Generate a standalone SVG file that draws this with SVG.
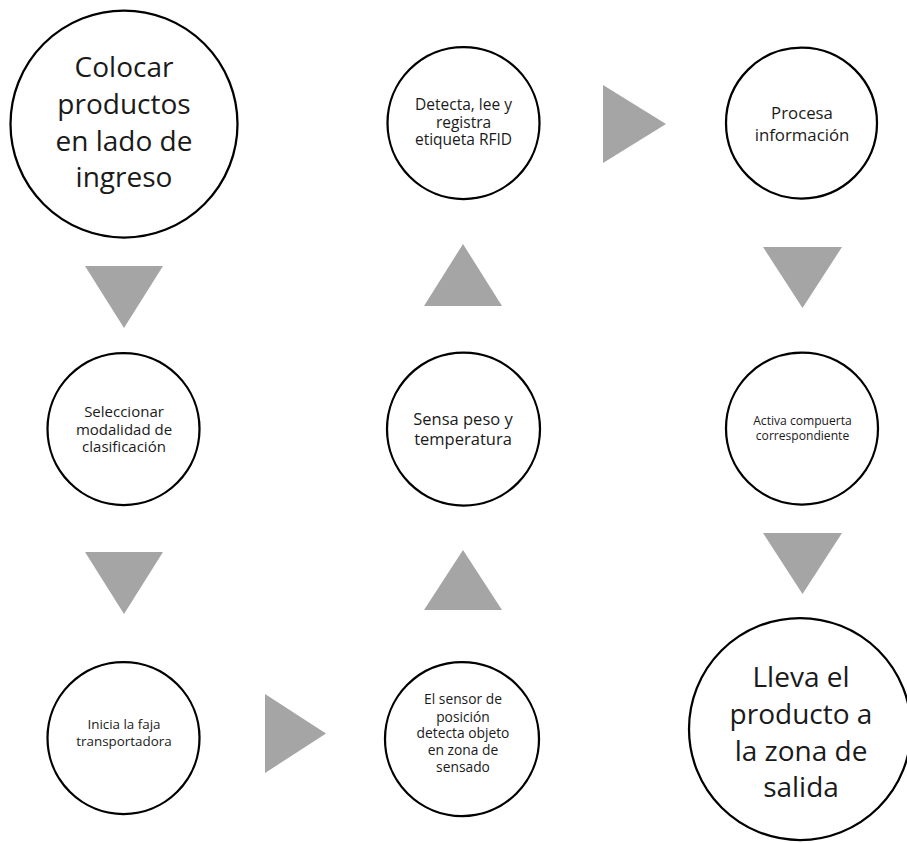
<svg xmlns="http://www.w3.org/2000/svg" width="907" height="843" viewBox="0 0 907 843">
  <style>
    .node circle { fill: #ffffff; stroke: #000000; stroke-width: 2.25; }
    .node text { font-family: "Open Sans", "Liberation Sans", sans-serif; fill: #1a1a1a; text-anchor: middle; }
    .big text { font-size: 28px; }
    .arrow { fill: #a5a5a5; stroke: none; }
  </style>
  <rect x="0" y="0" width="907" height="843" fill="#ffffff"/>

  <g id="connectors">
    <polygon class="arrow" points="85,266 163,266 124,328"/>
    <polygon class="arrow" points="85,552 163,552 124,614"/>
    <polygon class="arrow" points="265,694 265,773 326,733.5"/>
    <polygon class="arrow" points="424,610 502,610 463,550"/>
    <polygon class="arrow" points="424,306 502,306 463,244"/>
    <polygon class="arrow" points="603,85 603,163 666,124"/>
    <polygon class="arrow" points="763,247 842,247 802.5,308"/>
    <polygon class="arrow" points="763,533 842,533 802.5,594"/>
  </g>

  <g id="node-colocar" class="node big">
    <circle cx="124" cy="124" r="113.5"/>
    <text x="124" y="77">Colocar</text>
    <text x="124" y="114">productos</text>
    <text x="124" y="151">en lado de</text>
    <text x="124" y="187">ingreso</text>
  </g>

  <g id="node-seleccionar" class="node">
    <circle cx="123.5" cy="429" r="76"/>
    <text x="124" y="417" font-size="15">Seleccionar</text>
    <text x="124" y="434.5" font-size="15">modalidad de</text>
    <text x="124" y="452" font-size="15">clasificación</text>
  </g>

  <g id="node-inicia" class="node">
    <circle cx="123.5" cy="738" r="76"/>
    <text x="124" y="729" font-size="13.4">Inicia la faja</text>
    <text x="124" y="746" font-size="13.4">transportadora</text>
  </g>

  <g id="node-sensor" class="node">
    <circle cx="462" cy="739" r="77"/>
    <text x="463" y="704" font-size="13.8">El sensor de</text>
    <text x="463" y="721.5" font-size="13.8">posición</text>
    <text x="463" y="738" font-size="13.8">detecta objeto</text>
    <text x="463" y="755" font-size="13.8">en zona de</text>
    <text x="463" y="772" font-size="13.8">sensado</text>
  </g>

  <g id="node-sensa" class="node">
    <circle cx="463.5" cy="429" r="76.5"/>
    <text x="463" y="425" font-size="16.5">Sensa peso y</text>
    <text x="463" y="445" font-size="16.5">temperatura</text>
  </g>

  <g id="node-detecta" class="node">
    <circle cx="463.5" cy="123" r="76"/>
    <text x="463.5" y="110" font-size="15.5">Detecta, lee y</text>
    <text x="463.5" y="127.5" font-size="15.5">registra</text>
    <text x="463.5" y="145" font-size="15.5">etiqueta RFID</text>
  </g>

  <g id="node-procesa" class="node">
    <circle cx="801.5" cy="123" r="75.5"/>
    <text x="802" y="119" font-size="16.8">Procesa</text>
    <text x="802" y="141" font-size="16.8">información</text>
  </g>

  <g id="node-activa" class="node">
    <circle cx="802" cy="428.5" r="76"/>
    <text x="802.5" y="425" font-size="12.1">Activa compuerta</text>
    <text x="802.5" y="439.5" font-size="12.1">correspondiente</text>
  </g>

  <g id="node-lleva" class="node big">
    <circle cx="800" cy="729" r="111"/>
    <text x="801" y="687">Lleva el</text>
    <text x="801" y="724">producto a</text>
    <text x="801" y="761">la zona de</text>
    <text x="801" y="797">salida</text>
  </g>
</svg>
